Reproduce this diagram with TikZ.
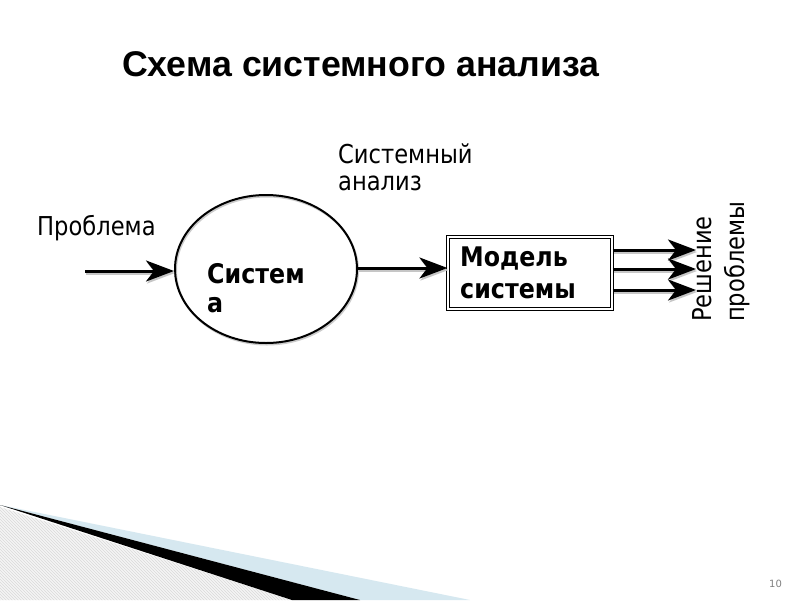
\documentclass[tikz,border=0pt]{standalone}
\usepackage{fontspec}
\setmainfont{DejaVu Sans}
\newfontfamily\titlefont{Liberation Sans}
\newfontfamily\tahoma[FakeStretch=0.87]{DejaVu Sans}
\newfontfamily\tahomab[FakeStretch=0.88]{DejaVu Sans}
\usetikzlibrary{arrows.meta,shapes.geometric,patterns}
\definecolor{lightblue}{RGB}{214,232,240}
\begin{document}
\begin{tikzpicture}[x=1pt,y=-1pt,
  txt/.style={anchor=base west, inner sep=0pt, align=left},
  arr/.style={line width=3pt, -{Stealth[length=28pt,width=21pt,inset=8pt]},
    preaction={draw, gray!45, line width=3pt, transform canvas={yshift=-2pt,xshift=1pt}}},
  sys/.style={ellipse, draw, line width=2pt, minimum width=182pt, minimum height=148pt, inner sep=0pt,
    preaction={draw, gray!40, line width=2pt, transform canvas={yshift=-1.5pt,xshift=1pt}}},
  modbox/.style={draw, double, double distance=2pt, line width=1.1pt, minimum width=164pt, minimum height=72pt, inner sep=0pt}
]
\useasboundingbox (0,0) rectangle (800,600);
\fill[white] (0,0) rectangle (800,600);
% bottom-left decoration
\fill[gray!8] (0,507) -- (292,600) -- (0,600) -- cycle;
\fill[pattern=north west lines, pattern color=gray!30] (0,507) -- (292,600) -- (0,600) -- cycle;
\fill[lightblue] (0,505) -- (470,600) -- (360,600) -- cycle;
\fill[black] (0,505) -- (360,600) -- (292,600) -- cycle;
% texts
\node[txt, font=\titlefont\bfseries\fontsize{35.7}{40}\selectfont] (title) at (122,76) {Схема системного анализа};
\node[txt, font=\tahoma\fontsize{26}{27}\selectfont] (problem) at (37,235) {Проблема};
\node[txt, font=\tahoma\fontsize{26}{27}\selectfont] (sa) at (338,190) {Системный\\анализ};
\node[rotate=90, anchor=north west, inner sep=0pt, align=left, font=\tahoma\fontsize{26}{33}\selectfont] (sol) at (692,322) {Решение\\проблемы};
\node[txt, font=\color{gray}\fontsize{10}{12}\selectfont] (page) at (769,587) {10};
% shapes
\node[sys] (system) at (266,269) {};
\node[txt, font=\tahomab\bfseries\fontsize{27}{29}\selectfont] (systxt) at (207,312) {Систем\\а};
\node[modbox] (model) at (530,273) {};
\node[txt, font=\tahomab\bfseries\fontsize{27}{32}\selectfont] (modtxt) at (460,298) {Модель\\системы};
\coordinate (in) at (85,271);
\coordinate (o1) at (696,250);
\coordinate (o2) at (696,269);
\coordinate (o3) at (696,290);
% arrows
\draw[arr] (in) -- (system.west |- in);
\draw[arr] (system.east |- 0,268) -- (model.west |- 0,268);
\draw[arr] (model.east |- o1) -- (o1);
\draw[arr] (model.east |- o2) -- (o2);
\draw[arr] (model.east |- o3) -- (o3);
\end{tikzpicture}
\end{document}
